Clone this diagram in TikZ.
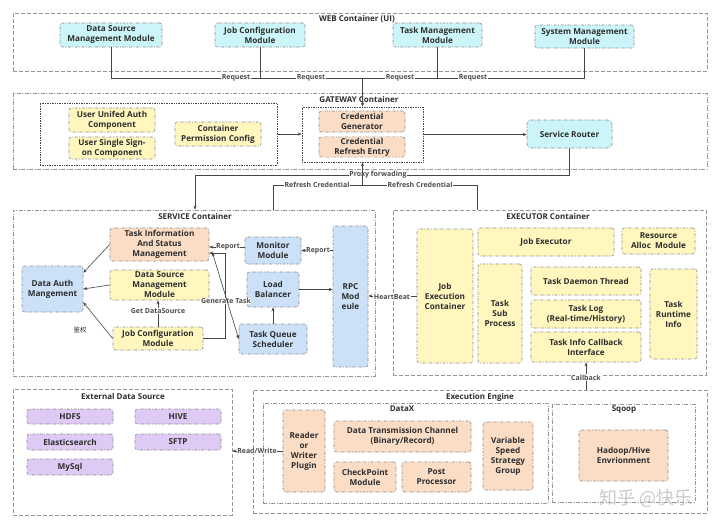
\documentclass[tikz,border=0pt]{standalone}
\usepackage{fontspec}
\setmainfont{Open Sans}
\newfontfamily\cjkfont{Noto Sans CJK SC}
\usetikzlibrary{arrows.meta,calc}
\definecolor{cyanfill}{RGB}{203,245,248}
\definecolor{yelfill}{RGB}{255,247,190}
\definecolor{orafill}{RGB}{251,221,197}
\definecolor{bluefill}{RGB}{204,225,248}
\definecolor{purfill}{RGB}{223,201,245}
\definecolor{ndborder}{RGB}{140,140,140}
\definecolor{contborder}{RGB}{150,150,150}
\definecolor{txtc}{RGB}{45,45,45}
\definecolor{linec}{RGB}{70,70,70}
\begin{document}
\begin{tikzpicture}[x=1pt,y=-1pt,
  nd/.style={draw=ndborder, line width=0.6pt, dash pattern=on 3pt off 1.5pt on 0.8pt off 1.5pt,
     rounded corners=2.5pt, align=center, text=txtc, inner sep=1pt,
     font=\fontsize{8.2}{10}\selectfont\bfseries},
  wh/.style 2 args={minimum width=#1, minimum height=#2},
  cyanbox/.style={nd, fill=cyanfill},
  yelbox/.style={nd, fill=yelfill},
  orabox/.style={nd, fill=orafill},
  bluebox/.style={nd, fill=bluefill},
  purbox/.style={nd, fill=purfill},
  contdash/.style={draw=contborder, line width=0.6pt, dash pattern=on 4pt off 2pt, inner sep=0pt},
  contdd/.style={draw=contborder, line width=0.6pt, dash pattern=on 4pt off 1.5pt on 1pt off 1.5pt, inner sep=0pt},
  grpdot/.style={draw=linec, line width=0.7pt, densely dotted, inner sep=0pt},
  ctitle/.style={text=txtc, font=\fontsize{8}{9}\selectfont\bfseries, inner sep=0.5pt},
  lbl/.style={fill=white, text=txtc!85, inner sep=0.6pt, font=\fontsize{7}{8}\selectfont\bfseries},
  ln/.style={draw=linec, line width=0.6pt},
  ar/.style={ln, -{Stealth[length=4pt,width=3.2pt]}},
  arr2/.style={ln, {Stealth[length=4pt,width=3.2pt]}-{Stealth[length=4pt,width=3.2pt]}}
]
\useasboundingbox[fill=white] (0,0) rectangle (720,528);

% ---------- containers ----------
\node[contdash, wh={694}{58}] (web) at (360,42) {};
\node[ctitle] (webt) at (357,19) {WEB Container (UI)};
\node[contdd, wh={694}{76}] (gateway) at (360,131) {};
\node[ctitle] (gwt) at (359,99) {GATEWAY Container};
\node[contdd, wh={362}{166}] (service) at (194,293) {};
\node[ctitle] (svt) at (195,216) {SERVICE Container};
\node[contdash, wh={313}{165}] (executor) at (549.5,292.5) {};
\node[ctitle] (ext) at (548,216) {EXECUTOR Container};
\node[contdash, wh={219}{126}] (external) at (122.5,452) {};
\node[ctitle] (edt) at (123,396) {External Data Source};
\node[contdash, wh={454}{123}] (engine) at (480,451.5) {};
\node[ctitle] (egt) at (480,397) {Execution Engine};
\node[contdd, wh={285}{100}] (datax) at (405.5,453) {};
\node[ctitle] (dxt) at (402,409) {DataX};
\node[contdd, wh={143}{98}] (sqoop) at (623.5,453) {};
\node[ctitle] (sqt) at (624,410) {Sqoop};

% ---------- WEB ----------
\node[cyanbox, wh={102}{24}] (dsweb) at (111,35) {Data Source\\Management Module};
\node[cyanbox, wh={90}{24}] (jcweb) at (260,35) {Job Configuration\\Module};
\node[cyanbox, wh={89}{24}] (tmweb) at (437.5,35) {Task Management\\Module};
\node[cyanbox, wh={99}{23}] (smweb) at (584.5,36.5) {System Management\\Module};

% ---------- GATEWAY ----------
\node[grpdot, wh={237}{62}] (authgrp) at (158.5,134) {};
\node[yelbox, wh={86}{24}] (uua) at (112,120) {User Unifed Auth\\Component};
\node[yelbox, wh={86}{22}] (sso) at (112,148) {User Single Sign-\\on Component};
\node[yelbox, wh={86}{24}] (cpc) at (218,134) {Container\\Permission Config};
\node[grpdot, wh={121}{55}] (credgrp) at (362.5,134.5) {};
\node[orabox, wh={86}{21}] (cg) at (362,121.5) {Credential\\Generator};
\node[orabox, wh={86}{20}] (cre) at (362,147) {Credential\\Refresh Entry};
\node[cyanbox, wh={85}{28}, rounded corners=4pt] (router) at (569.5,134) {Service Router};

% ---------- SERVICE ----------
\node[orabox, wh={99}{33}] (taskinfo) at (159.5,244.5) {Task Information\\And Status\\Management};
\node[yelbox, wh={99}{30}] (dsm) at (159.5,285) {Data Source\\Management\\Module};
\node[yelbox, wh={90}{23}] (jcm) at (158,338.5) {Job Configuration\\Module};
\node[bluebox, wh={61}{46}] (dauth) at (52.5,289) {Data Auth\\Mangement};
\node[bluebox, wh={56}{27}] (monitor) at (273,250.5) {Monitor\\Module};
\node[bluebox, wh={52}{35}] (lb) at (273,289.5) {Load\\Balancer};
\node[bluebox, wh={68}{30}] (tqs) at (273,339) {Task Queue\\Scheduler};
\node[bluebox, wh={35}{141}] (rpc) at (350.5,296.5) {RPC\\Mod\\eule};

% ---------- EXECUTOR ----------
\node[yelbox, wh={56}{134}] (jec) at (445,296) {Job\\Execution\\Container};
\node[yelbox, wh={136}{28}] (je) at (546,242) {Job Executor};
\node[yelbox, wh={73}{26}] (ram) at (658.5,241) {Resource\\Alloc~~Module};
\node[yelbox, wh={44}{99}] (tsp) at (500,313.5) {Task\\Sub\\Process};
\node[yelbox, wh={110}{28}] (tdt) at (586,281) {Task Daemon Thread};
\node[yelbox, wh={110}{28}] (tlog) at (586,314) {Task Log\\(Real-time/History)};
\node[yelbox, wh={110}{30}] (tici) at (586,347) {Task Info Callback\\Interface};
\node[yelbox, wh={47}{90}] (tri) at (673.5,314) {Task\\Runtime\\Info};

% ---------- EXTERNAL ----------
\node[purbox, wh={86}{15}] (hdfs) at (70,416.5) {HDFS};
\node[purbox, wh={86}{15}] (hive) at (178,416.5) {HIVE};
\node[purbox, wh={86}{16}] (es) at (70,442) {Elasticsearch};
\node[purbox, wh={86}{16}] (sftp) at (178,442) {SFTP};
\node[purbox, wh={86}{16}] (mysql) at (70,467) {MySql};

% ---------- ENGINE ----------
\node[orabox, wh={42}{82}] (rwp) at (304,451) {Reader\\or\\Writer\\Plugin};
\node[orabox, wh={137}{31}] (dtc) at (402.5,436.5) {Data Transmission Channel\\(Binary/Record)};
\node[orabox, wh={62}{30}] (cpm) at (365,477) {CheckPoint\\Module};
\node[orabox, wh={69}{30}] (pp) at (436.5,477) {Post\\Processor};
\node[orabox, wh={50}{68}] (vss) at (508,456) {Variable\\Speed\\Strategy\\Group};
\node[orabox, wh={89}{51}] (hhe) at (623.5,455.5) {Hadoop/Hive\\Envrionment};

% ---------- connectors: WEB -> GATEWAY ----------
\coordinate (bus) at (362.5,78);
\draw[ln] (dsweb.south) |- (bus);
\draw[ln] (smweb.south) |- (bus);
\draw[ln] (jcweb.south) -- (jcweb.south |- bus);
\draw[ln] (tmweb.south) -- (tmweb.south |- bus);
\draw[ar] (bus) -- (credgrp.north);
\node[lbl] (rq1) at (236,78) {Request};
\node[lbl] (rq2) at (311,78) {Request};
\node[lbl] (rq3) at (400,78) {Request};
\node[lbl] (rq4) at (473,78) {Request};

% ---------- GATEWAY internal ----------
\draw[ar] (authgrp.east) -- (authgrp.east -| credgrp.west);
\draw[ar] (credgrp.east) -- (credgrp.east -| router.west);

% ---------- Proxy forwarding / Refresh credential ----------
\coordinate (pf) at (195,175);
\draw[ar] (router.south) |- (pf) -- (service.north -| pf);
\node[lbl] (pfl) at (378,175) {Proxy forwading};
\coordinate (rc) at (362.5,185);
\draw[ar] (rc) -- (credgrp.south);
\draw[ln] (rc) -| (service.north -| 273,0);
\draw[ln] (rc) -| (executor.north -| 477,0);
\node[lbl] (rcl1) at (317,185) {Refresh Credential};
\node[lbl] (rcl2) at (420,185) {Refresh Credential};

% ---------- SERVICE internal ----------
\draw[ar] (taskinfo.west) -- ($(dauth.north east)+(0,7)$);
\draw[ar] (dsm.west) -- (dauth.east);
\draw[ar] (jcm.west) -- ($(dauth.south east)+(0,-10)$);
\node[text=txtc, inner sep=0pt, font=\cjkfont\fontsize{6.5}{8}\selectfont] (jq) at (80,330) {鉴权};
\draw[ar] (jcm.north) -- (jcm.north |- dsm.south);
\node[lbl] (gds) at (158,311) {Get DataSource};
\coordinate (gtk) at (225,253);
\draw[ar] (jcm.east) -| (gtk) -- (gtk -| taskinfo.east);
\node[lbl] (gtl) at (226,301) {Generate Task};
\draw[arr2] ($(taskinfo.south east)+(3,-9)$) -- (tqs.west);
\draw[ar] (monitor.west |- 0,247) -- (taskinfo.east |- 0,247);
\node[lbl] (rp1) at (228,247) {Report};
\draw[ar] (monitor.east -| rpc.west) -- (monitor.east);
\node[lbl] (rp2) at (318,250.5) {Report};
\draw[ar] (lb.east) -- (lb.east -| rpc.west);
\draw[ar] (tqs.north) -- (lb.south);

% ---------- EXECUTOR links ----------
\draw[ar] (jec.west) -- (jec.west -| rpc.east);
\node[lbl] (hb) at (392,297) {HeartBeat};
\draw[ar] (engine.north -| tici.south) -- (tici.south);
\node[lbl] (cb) at (586,377.5) {Callback};

% ---------- ENGINE links ----------
\draw[ar] (rwp.west) -- (rwp.west -| external.east);
\node[lbl] (rw) at (257,451) {Read/Write};

% ---------- watermark ----------
\node[text=gray!55, opacity=0.75, inner sep=0pt, font=\cjkfont\fontsize{18}{20}\selectfont] (wm) at (646,498) {知乎 @快乐};
\end{tikzpicture}
\end{document}
